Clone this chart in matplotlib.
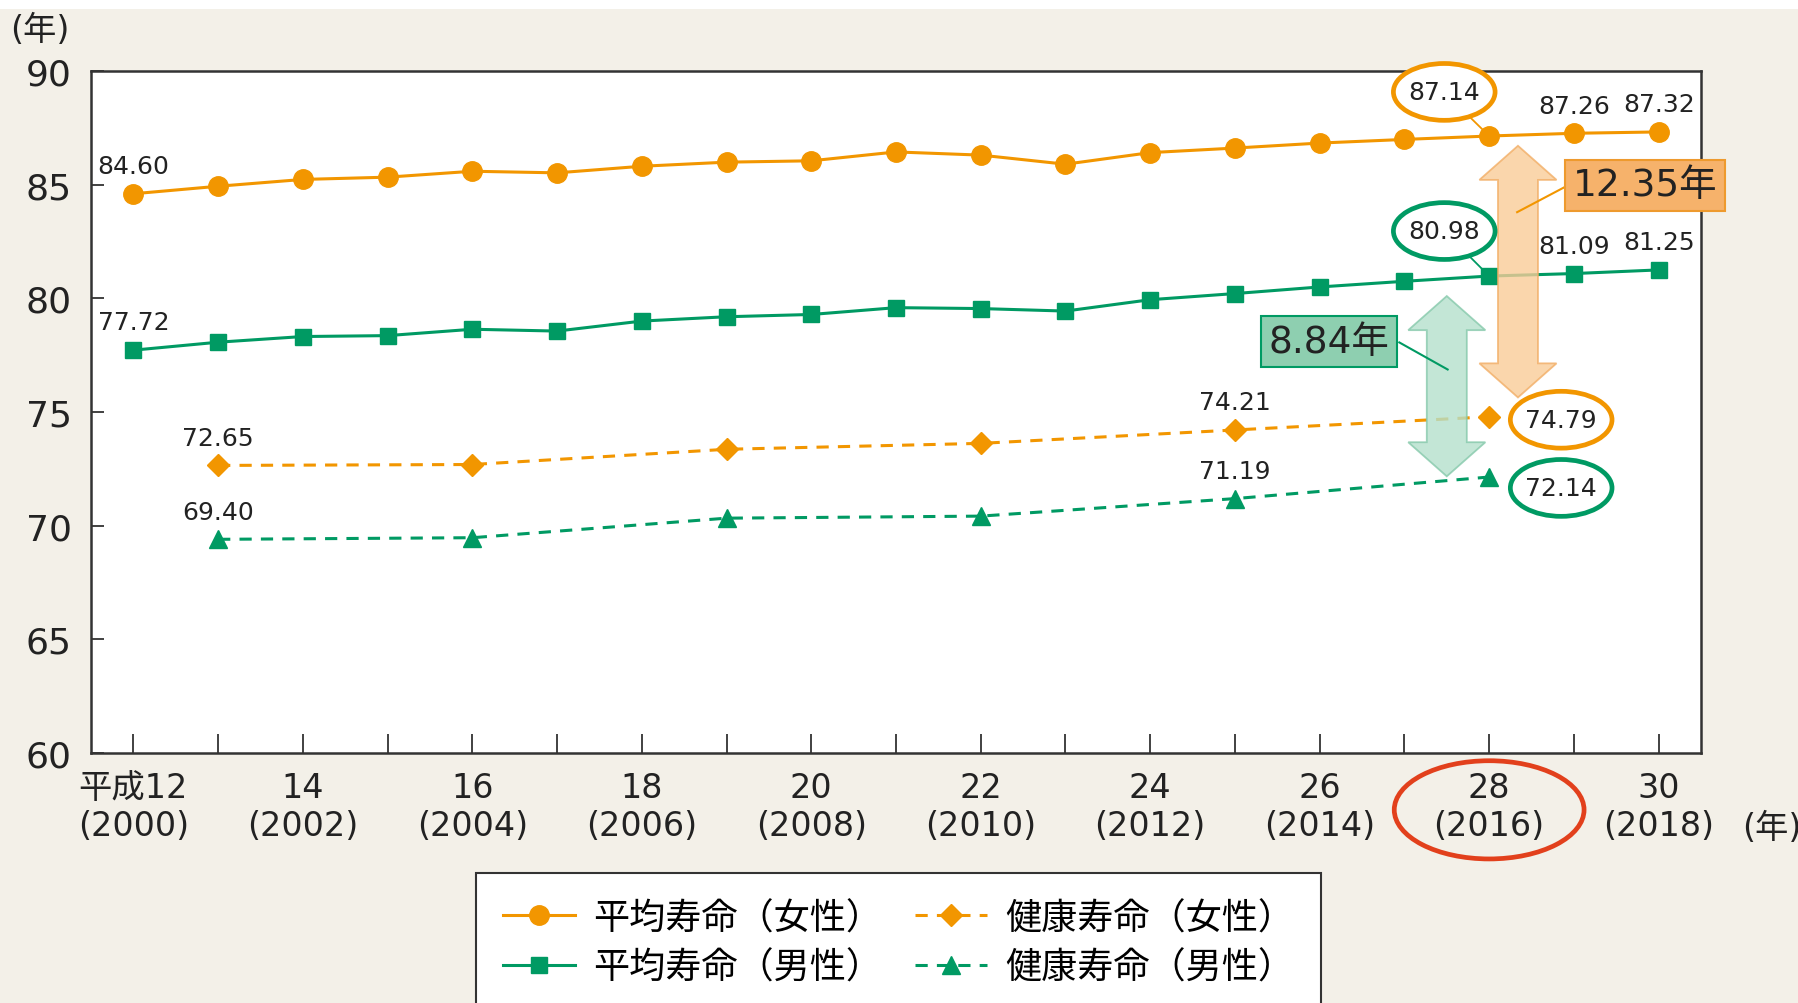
import matplotlib.pyplot as plt
import matplotlib.patches as mpatches
import numpy as np

plt.rcParams['font.family'] = ['DejaVu Sans', 'Noto Sans CJK JP']
JP = ['Noto Sans CJK JP', 'DejaVu Sans']

# 平均寿命・健康寿命の推移（平成12年〜30年）
years = list(range(2000, 2019))
heisei = list(range(12, 31))
avg_female = [84.60, 84.93, 85.23, 85.33, 85.59, 85.52, 85.81, 85.99, 86.05, 86.44,
              86.30, 85.90, 86.41, 86.61, 86.83, 86.99, 87.14, 87.26, 87.32]
avg_male = [77.72, 78.07, 78.32, 78.36, 78.64, 78.56, 79.00, 79.19, 79.29, 79.59,
            79.55, 79.44, 79.94, 80.21, 80.50, 80.75, 80.98, 81.09, 81.25]
health_years = [2001, 2004, 2007, 2010, 2013, 2016]
health_female = [72.65, 72.69, 73.36, 73.62, 74.21, 74.79]
health_male = [69.40, 69.47, 70.33, 70.42, 71.19, 72.14]
gap_female = 12.35
gap_male = 8.84

tick_years = years[::2]
tick_labels = [("平成" if i == 0 else "") + f"{heisei[j]}\n({years[j]})"
               for i, j in enumerate(range(0, len(years), 2))]

ORANGE = '#F29600'
GREEN = '#009A63'
BG = '#F3F0E8'

fig = plt.figure(figsize=(17.99, 10.04), dpi=100, facecolor=BG)
fig.patches.append(mpatches.Rectangle((0, 1 - 10 / 1004), 1, 10 / 1004, transform=fig.transFigure,
                                      fc='white', ec='none', zorder=-1))
ax = fig.add_axes([91 / 1799, 1 - 754 / 1004, (1701 - 91) / 1799, (754 - 72) / 1004])
ax.set_facecolor('white')

ax.plot(years, avg_female, color=ORANGE, lw=2.2, marker='o', ms=14, zorder=3,
        label='平均寿命（女性）')
ax.plot(years, avg_male, color=GREEN, lw=2.2, marker='s', ms=12, zorder=3,
        label='平均寿命（男性）')
ax.plot(health_years, health_female, color=ORANGE, lw=2.2, ls=(0, (4, 3)), marker='D', ms=11,
        zorder=3, label='健康寿命（女性）')
ax.plot(health_years, health_male, color=GREEN, lw=2.2, ls=(0, (4, 3)), marker='^', ms=13,
        zorder=3, label='健康寿命（男性）')

ax.set_xlim(1999.5, 2018.5)
ax.set_ylim(60, 90)
ax.set_yticks(range(60, 91, 5))
ax.set_xticks(tick_years)
ax.set_xticklabels(tick_labels, linespacing=1.18)
ax.set_xticks(years, minor=True)
ax.tick_params(axis='x', which='both', direction='in', length=14, width=1.3, labelsize=24,
               pad=13, colors='#333333', labelcolor='#222222')
ax.tick_params(axis='y', direction='in', length=9, width=1.3, labelsize=26, pad=14,
               colors='#333333', labelcolor='#222222')
for s in ax.spines.values():
    s.set_color('#333333')
    s.set_linewidth(1.8)

fig.text(40 / 1799, 1 - 30 / 1004, '(年)', fontsize=24, ha='center', va='center', color='#222222')
fig.text(1772 / 1799, 1 - 828 / 1004, '(年)', fontsize=24, ha='center', va='center', color='#222222')

# 数値ラベル（マーカーの上）
def value_label(x, y):
    ax.annotate(f"{y:.2f}", (x, y), xytext=(0, 20), textcoords='offset points',
                ha='center', va='center', fontsize=18, color='#222222', zorder=5)

value_label(years[0], avg_female[0])
value_label(years[0], avg_male[0])
for i in (-2, -1):
    value_label(years[i], avg_female[i])
    value_label(years[i], avg_male[i])
value_label(health_years[0], health_female[0])
value_label(health_years[0], health_male[0])
value_label(health_years[-2], health_female[-2])
value_label(health_years[-2], health_male[-2])

# 平成28年の値を楕円で囲む
def circled(x, y, dx, dy, color, leader):
    cx, cy = x + dx, y + dy
    if leader:
        ax.plot([cx, x], [cy, y], color=color, lw=1.3, zorder=4, clip_on=False)
    ax.add_patch(mpatches.Ellipse((cx, cy), 1.2, 2.5, fc='white', ec=color, lw=3.4,
                                  zorder=6, clip_on=False))
    ax.text(cx, cy, f"{y:.2f}", ha='center', va='center', fontsize=18, color='#222222',
            zorder=7, clip_on=False)

circled(years[16], avg_female[16], -0.53, 1.94, ORANGE, True)
circled(years[16], avg_male[16], -0.53, 1.98, GREEN, True)
circled(health_years[-1], health_female[-1], 0.85, -0.13, ORANGE, False)
circled(health_years[-1], health_male[-1], 0.85, -0.48, GREEN, False)


def double_arrow(x, y_top, y_bot, fc, ec):
    sw, hw, hl = 0.236, 0.455, 1.5
    xs = [x, x + hw, x + sw, x + sw, x + hw, x, x - hw, x - sw, x - sw, x - hw]
    ys = [y_top, y_top - hl, y_top - hl, y_bot + hl, y_bot + hl, y_bot,
          y_bot + hl, y_bot + hl, y_top - hl, y_top - hl]
    ax.add_patch(mpatches.Polygon(np.column_stack([xs, ys]), closed=True, fc=fc, ec=ec,
                                  lw=1.3, alpha=0.8, zorder=4))

double_arrow(2016.34, avg_female[16] - 0.43, health_female[-1] + 0.85, '#F9CC98', '#F2AE66')
double_arrow(2015.5, avg_male[16] - 0.88, health_male[-1] + 0.03, '#B4E0CC', '#86C9AB')

# 差の表示
ax.plot([2016.91, 2016.33], [84.93, 83.79], color=ORANGE, lw=1.5, zorder=5)
ax.text(2017.84, 84.98, f"{gap_female:.2f}年", ha='center', va='center', fontsize=27,
        color='#222222', zorder=7, clip_on=False,
        bbox=dict(boxstyle='square,pad=0.2', fc='#F6B26B', ec='#EE9A2E', lw=1.5))
ax.plot([2014.94, 2015.51], [78.06, 76.87], color=GREEN, lw=1.5, zorder=5)
ax.text(2014.11, 78.08, f"{gap_male:.2f}年", ha='center', va='center', fontsize=27,
        color='#222222', zorder=7,
        bbox=dict(boxstyle='square,pad=0.2', fc='#8ECFB0', ec=GREEN, lw=1.5))

# 平成28年(2016)の目盛りラベルを囲む
ax.add_patch(mpatches.Ellipse((2016, 57.5), 2.24, 4.32, fc='none', ec='#E2401C', lw=3.4,
                              zorder=6, clip_on=False))

h, l = ax.get_legend_handles_labels()
leg = fig.legend(h, l, ncol=2, loc='upper left',
                 bbox_to_anchor=(476 / 1799, 1 - 874 / 1004), borderaxespad=0,
                 prop={'family': JP, 'size': 26}, handlelength=2.0, handletextpad=0.5,
                 columnspacing=0.9, labelspacing=0.38, borderpad=0.75, fancybox=False,
                 framealpha=1, edgecolor='#333333', facecolor='white')
leg.get_frame().set_linewidth(1.5)

fig.savefig('out.png', dpi=100, facecolor=BG)
